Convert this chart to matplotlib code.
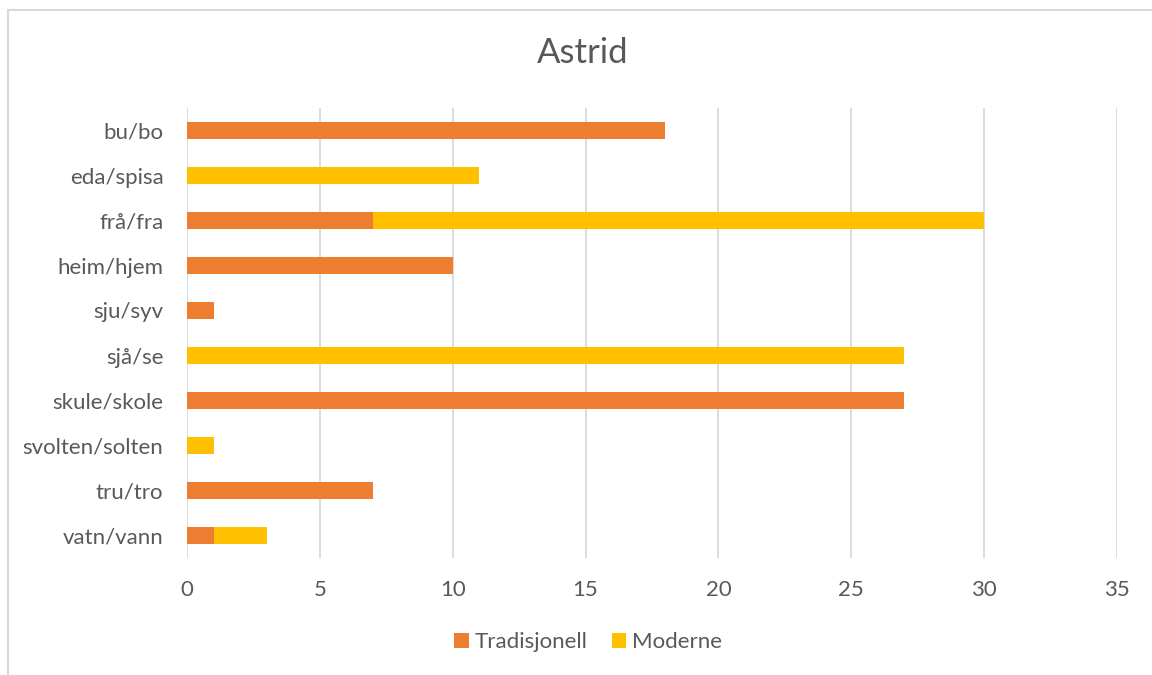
import matplotlib
matplotlib.use("Agg")
import matplotlib.pyplot as plt

plt.rcParams["font.family"] = ["Lato", "DejaVu Sans"]

words = ["bu/bo", "eda/spisa", "frå/fra", "heim/hjem", "sju/syv",
         "sjå/se", "skule/skole", "svolten/solten", "tru/tro", "vatn/vann"]
tradisjonell = [18, 0, 7, 10, 1, 0, 27, 0, 7, 1]
moderne = [0, 11, 23, 0, 0, 27, 0, 1, 0, 2]
x_ticks = [0, 5, 10, 15, 20, 25, 30, 35]

ORANGE = "#ED7D31"
YELLOW = "#FFC000"
TEXT = "#595959"
GRID = "#D9D9D9"

fig = plt.figure(figsize=(11.52, 6.75), dpi=100)
ax = fig.add_axes([187 / 1152, 1 - 558 / 675, 930 / 1152, 450 / 675])

y = range(len(words))
ax.barh(y, tradisjonell, height=0.38, color=ORANGE, label="Tradisjonell", zorder=3)
ax.barh(y, moderne, left=tradisjonell, height=0.38, color=YELLOW, label="Moderne", zorder=3)

ax.set_xlim(0, 35)
ax.set_ylim(len(words) - 0.5, -0.5)
ax.set_xticks(x_ticks)
ax.set_yticks(list(y))
ax.set_yticklabels(words)
ax.tick_params(length=0, labelsize=16, colors=TEXT)
ax.tick_params(axis="x", pad=16)
ax.tick_params(axis="y", pad=17)
ax.grid(axis="x", color=GRID, linewidth=1.3, zorder=0)
for s in ax.spines.values():
    s.set_visible(False)

fig.text(583 / 1152, 1 - 53 / 675, "Astrid", ha="center", va="center",
         fontsize=25, color=TEXT)

fig.legend(loc="center", bbox_to_anchor=(588 / 1152, 1 - 642 / 675), ncol=2,
           frameon=False, fontsize=16, labelcolor=TEXT, handlelength=0.65,
           handleheight=0.65, handletextpad=0.25, columnspacing=1.1)

# chart border (only left and top edges visible in the crop)
fig.add_artist(plt.Line2D([7.5 / 1152, 7.5 / 1152], [0, 1 - 9.5 / 675],
                          color=GRID, linewidth=1.5))
fig.add_artist(plt.Line2D([7.5 / 1152, 1], [1 - 9.5 / 675, 1 - 9.5 / 675],
                          color=GRID, linewidth=1.5))

fig.savefig("out.png", dpi=100)
